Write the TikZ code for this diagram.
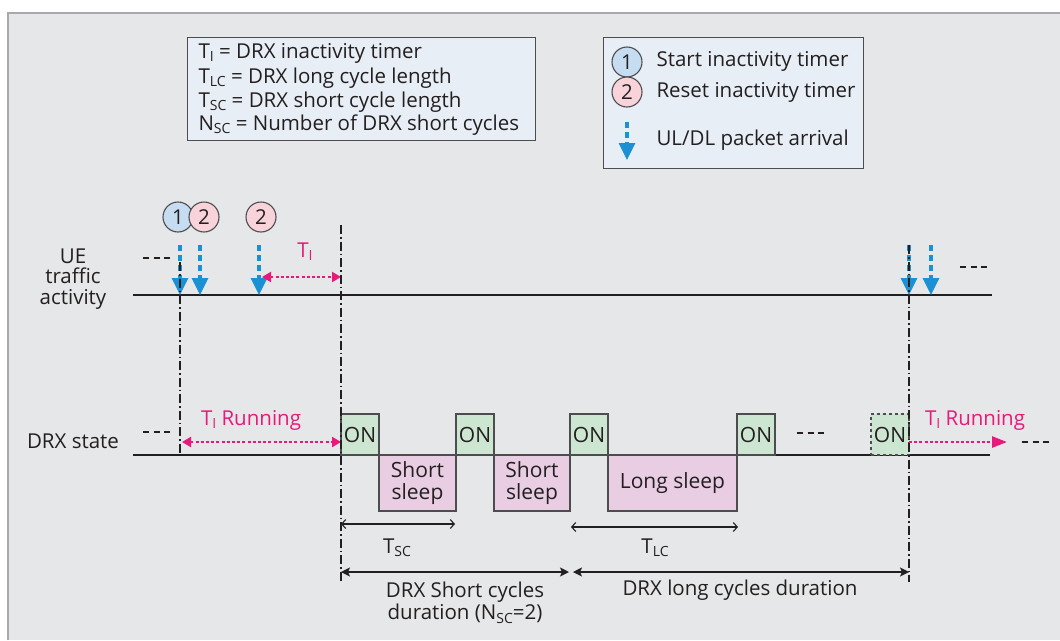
\documentclass[tikz,border=0pt]{standalone}
\usepackage{fontspec}
\setmainfont{Open Sans}
\usetikzlibrary{arrows.meta,positioning}

\definecolor{bggray}{HTML}{E6E7E8}
\definecolor{framegray}{HTML}{A7A9AC}
\definecolor{inkgray}{HTML}{4D4D4F}
\definecolor{legfill}{HTML}{E8EEF5}
\definecolor{onfill}{HTML}{CDE6D2}
\definecolor{sleepfill}{HTML}{E8CDE3}
\definecolor{onefill}{HTML}{C6DCF0}
\definecolor{twofill}{HTML}{F9D3DA}
\definecolor{pktblue}{HTML}{1B91D3}
\definecolor{timerpink}{HTML}{E8197B}
\definecolor{txt}{HTML}{231F20}

\newcommand{\lowsub}[1]{\raisebox{-3.5pt}{\fontsize{14}{14}\selectfont #1}}

\tikzset{
  legbox/.style={draw=inkgray, fill=legfill, line width=1.3pt, inner sep=0pt},
  onbox/.style={draw=inkgray, fill=onfill, line width=1.2pt, inner sep=0pt, outer sep=0pt,
    minimum width=38pt, minimum height=41pt, text=txt, font=\fontsize{21}{24}\selectfont},
  sleepbox/.style={draw=inkgray, fill=sleepfill, line width=1.2pt, inner sep=0pt, outer sep=0pt,
    minimum height=56pt, align=center, text=txt, font=\fontsize{21}{22}\selectfont},
  onecirc/.style={circle, draw=inkgray, fill=onefill, line width=1.1pt,
    minimum size=30pt, inner sep=0pt, text=txt},
  twocirc/.style={onecirc, fill=twofill},
  pkt/.style={pktblue, line width=3.3pt, dash pattern=on 6pt off 4pt,
    -{Triangle[width=16pt,length=17pt]}},
  timer/.style={timerpink, line width=2.6pt, dash pattern=on 3pt off 2.2pt},
  axis/.style={txt, line width=1.3pt},
  dashdot/.style={txt, line width=1.1pt, dash pattern=on 9pt off 3pt on 1.5pt off 3pt},
  gapdash/.style={txt, line width=1.1pt, dash pattern=on 6pt off 4.5pt},
  dim/.style={txt, line width=1.1pt,
    {Straight Barb[length=4pt,width=9pt]}-{Straight Barb[length=4pt,width=9pt]}},
  span/.style={txt, line width=1.3pt,
    {Stealth[length=9pt,width=9pt,inset=2pt]}-{Stealth[length=9pt,width=9pt,inset=2pt]}},
}

\begin{document}
\begin{tikzpicture}[x=1pt,y=-1pt,font=\fontsize{20.5}{24}\selectfont,text=txt]
  \useasboundingbox (0,0) rectangle (1060,640);
  \fill[white] (0,0) rectangle (1060,640);
  \fill[bggray] (8,13) rectangle (1060,640);
  \draw[framegray,line width=2pt] (8,640) -- (8,13) -- (1060,13);

  % legends
  \node[legbox, anchor=north west, minimum width=348pt, minimum height=103pt] (defs) at (187,37) {};
  \node[anchor=base west] (defI) at (195,58) {T\lowsub{I} = DRX inactivity timer};
  \node[anchor=base west] (defLC) at (195,83) {T\lowsub{LC} = DRX long cycle length};
  \node[anchor=base west] (defSC) at (195,107) {T\lowsub{SC} = DRX short cycle length};
  \node[anchor=base west] (defN) at (195,130) {N\lowsub{SC} = Number of DRX short cycles};

  \node[legbox, anchor=north west, minimum width=260pt, minimum height=131pt] (keys) at (603,37) {};
  \node[onecirc] (k1) at (627,62) {1};
  \node[twocirc] (k2) at (627,92) {2};
  \node[anchor=base west] (k1t) at (653,66) {Start inactivity timer};
  \node[anchor=base west] (k2t) at (653,97) {Reset inactivity timer};
  \coordinate (k3s) at (627,122);
  \coordinate (k3e) at (627,160);
  \draw[pkt] (k3s) -- (k3e);
  \node[anchor=base west] (k3t) at (653,145) {UL/DL packet arrival};

  % UE traffic activity
  \node[align=center, font=\fontsize{20.5}{20.5}\selectfont] (ue) at (73,279) {UE\\traffic\\activity};
  \coordinate (ueL) at (133,295);
  \coordinate (ueR) at (992,295);
  \draw[axis] (ueL) -- (ueR);
  \draw[gapdash] (143,258) -- (170,258);
  \draw[gapdash] (960,267) -- (990,267);

  \coordinate (p1s) at (180,245); \coordinate (p1e) at (180,295);
  \coordinate (p2s) at (200,245); \coordinate (p2e) at (200,295);
  \coordinate (p3s) at (259,245); \coordinate (p3e) at (259,295);
  \coordinate (p4s) at (909,245); \coordinate (p4e) at (909,295);
  \coordinate (p5s) at (931,245); \coordinate (p5e) at (931,295);
  \draw[pkt] (p1s) -- (p1e);
  \draw[pkt] (p2s) -- (p2e);
  \draw[pkt] (p3s) -- (p3e);
  \draw[pkt] (p4s) -- (p4e);
  \draw[pkt] (p5s) -- (p5e);

  \node[onecirc] (c1) at (178,217) {1};
  \node[twocirc] (c2) at (204,217) {2};
  \node[twocirc] (c3) at (261,217) {2};

  \coordinate (ti1) at (262,277);
  \coordinate (ti2) at (341,277);
  \draw[timer, {Triangle[width=10pt,length=9pt]}-{Triangle[width=10pt,length=9pt]}] (ti1) -- (ti2);
  \node[anchor=base, text=timerpink] (tilab) at (305,257) {T\lowsub{I}};

  % DRX state
  \node[anchor=base] (drx) at (73,448) {DRX state};
  \coordinate (drxL) at (133,455);
  \coordinate (drxR) at (990,455);
  \draw[axis] (drxL) -- (drxR);
  \draw[gapdash] (143,432) -- (172,432);
  \draw[gapdash] (797,433) -- (828,433);
  \draw[gapdash] (1022,442) -- (1052,442);

  \node[onbox, anchor=south west] (on1) at (341,455) {ON};
  \node[sleepbox, anchor=north west, minimum width=77pt] (ss1) at (on1.south east) {Short\\sleep};
  \node[onbox, anchor=south west] (on2) at (ss1.north east) {ON};
  \node[sleepbox, anchor=north west, minimum width=76pt] (ss2) at (on2.south east) {Short\\sleep};
  \node[onbox, anchor=south west] (on3) at (ss2.north east) {ON};
  \node[sleepbox, anchor=north west, minimum width=129pt] (ls) at (on3.south east) {Long sleep};
  \node[onbox, anchor=south west] (on4) at (ls.north east) {ON};
  \node[onbox, dashed, anchor=south west] (on5) at (871,455) {ON};

  \coordinate (tr1) at (182,442);
  \coordinate (tr2) at (341,442);
  \draw[timer, {Triangle[width=10pt,length=9pt]}-{Triangle[width=10pt,length=9pt]}] (tr1) -- (tr2);
  \node[anchor=base, text=timerpink] (trlab) at (251,425) {T\lowsub{I} Running};
  \coordinate (tr3) at (909,442);
  \coordinate (tr4) at (1007,442);
  \draw[timer, -{Triangle[width=11pt,length=15pt]}] (tr3) -- (tr4);
  \node[anchor=base, text=timerpink] (trlab2) at (975,425) {T\lowsub{I} Running};

  % time marks
  \coordinate (v1t) at (180,262); \coordinate (v1b) at (180,455);
  \coordinate (v2t) at (341,225); \coordinate (v2b) at (341,582);
  \coordinate (v3t) at (909,245); \coordinate (v3b) at (909,582);
  \draw[dashdot] (v1t) -- (v1b);
  \draw[dashdot] (v2t) -- (v2b);
  \draw[dashdot] (v3t) -- (v3b);

  % cycle lengths
  \coordinate (sc1) at (341,524); \coordinate (sc2) at (455,524);
  \draw[dim] (sc1) -- (sc2);
  \node[anchor=base] (tsc) at (397,553) {T\lowsub{SC}};
  \coordinate (lc1) at (571,527); \coordinate (lc2) at (738,527);
  \draw[dim] (lc1) -- (lc2);
  \node[anchor=base] (tlc) at (655,553) {T\lowsub{LC}};

  \coordinate (sd1) at (341,572); \coordinate (sd2) at (569,572);
  \coordinate (ld1) at (573,572); \coordinate (ld2) at (909,572);
  \draw[span] (sd1) -- (sd2);
  \draw[span] (ld1) -- (ld2);
  \node[align=center, font=\fontsize{20.5}{22}\selectfont] (sdlab) at (465,603)
    {DRX Short cycles\\duration (N\lowsub{SC}=2)};
  \node[anchor=base] (ldlab) at (740,595) {DRX long cycles duration};
\end{tikzpicture}
\end{document}
